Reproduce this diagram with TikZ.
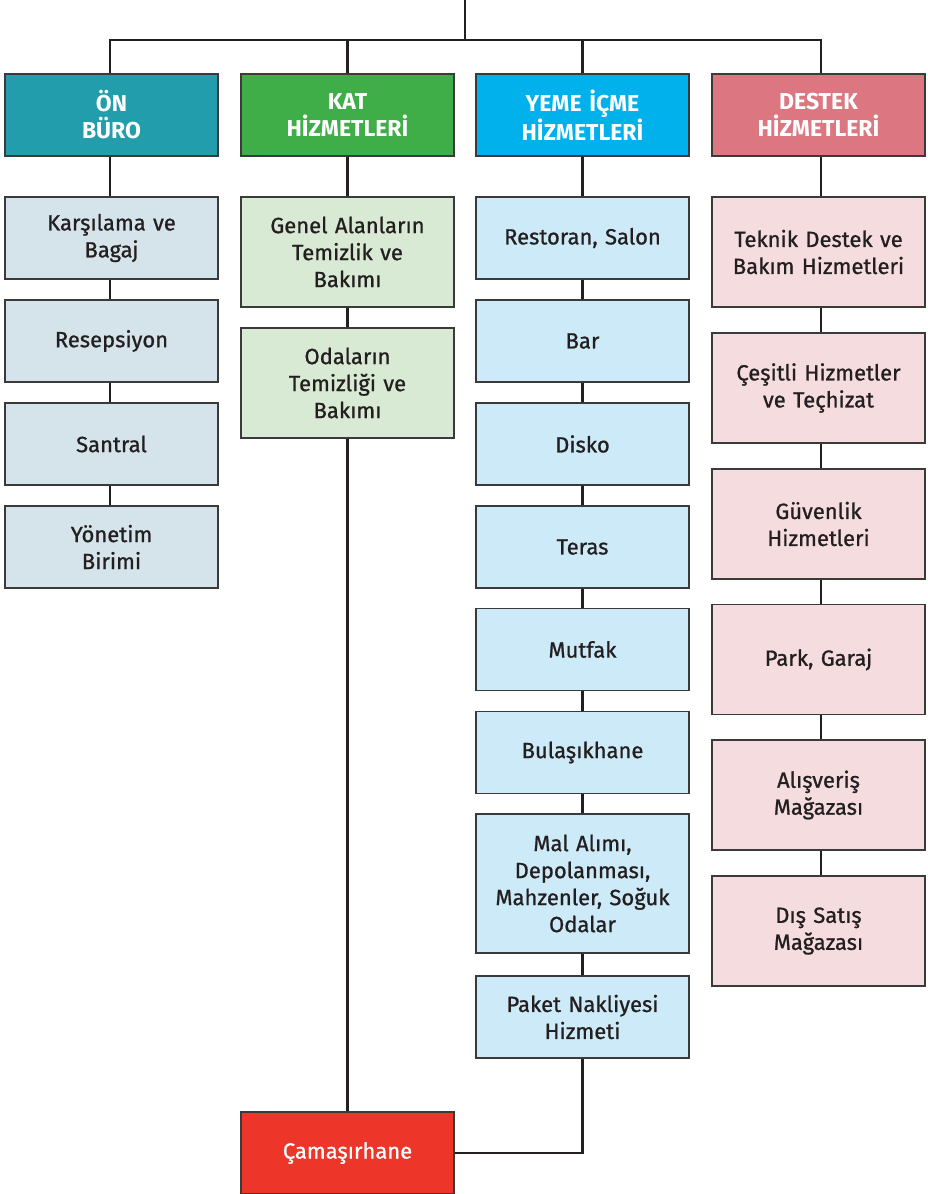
\documentclass[tikz,border=0pt]{standalone}
\usepackage{fontspec}
\setmainfont{Fira Sans}
\newfontfamily\medfont{Fira Sans}[FakeBold=0.9]
\definecolor{hA}{HTML}{219DAB}
\definecolor{hB}{HTML}{3FAE49}
\definecolor{hC}{HTML}{00B1EB}
\definecolor{hD}{HTML}{DC7782}
\definecolor{sA}{HTML}{D5E4EA}
\definecolor{sB}{HTML}{D9EAD4}
\definecolor{sC}{HTML}{CDEAF8}
\definecolor{sD}{HTML}{F5DCDF}
\definecolor{red}{HTML}{EE3529}
\definecolor{txt}{HTML}{231F20}
\definecolor{brd}{HTML}{3A3A3A}
\tikzset{
  box/.style={draw=brd, line width=1.3pt, minimum width=213pt, inner sep=2pt,
    align=center, text width=205pt, font=\medfont\fontsize{22}{27}\selectfont, text=txt},
  hdr/.style={box, minimum height=82pt, text=white, font=\fontsize{23}{27}\selectfont\bfseries},
  conn/.style={draw=txt, line width=2.6pt}
}
\begin{document}
\begin{tikzpicture}[x=1pt,y=-1pt]
\useasboundingbox (0,0) rectangle (927,1194);
% headers
\node[hdr, fill=hA] (h1) at (111.5,115) {ÖN\\BÜRO};
\node[hdr, fill=hB] (h2) at (347.5,115) {KAT\\HİZMETLERİ};
\node[hdr, fill=hC] (h3) at (582.5,115) {YEME İÇME\\HİZMETLERİ};
\node[hdr, fill=hD] (h4) at (818.5,115) {DESTEK\\HİZMETLERİ};
% column 1
\node[box, fill=sA, minimum height=82pt] (a1) at (111.5,238) {Karşılama ve\\Bagaj};
\node[box, fill=sA, minimum height=82pt] (a2) at (111.5,341) {Resepsiyon};
\node[box, fill=sA, minimum height=82pt] (a3) at (111.5,444) {Santral};
\node[box, fill=sA, minimum height=82pt] (a4) at (111.5,547) {Yönetim\\Birimi};
% column 2
\node[box, fill=sB, minimum height=110pt] (b1) at (347.5,252) {Genel Alanların\\Temizlik ve\\Bakımı};
\node[box, fill=sB, minimum height=110pt] (b2) at (347.5,383) {Odaların\\Temizliği ve\\Bakımı};
\node[box, fill=red, minimum height=82pt, text=white] (cam) at (347.5,1153) {Çamaşırhane};
% column 3
\node[box, fill=sC, minimum height=82pt] (c1) at (582.5,238) {Restoran, Salon};
\node[box, fill=sC, minimum height=82pt] (c2) at (582.5,341) {Bar};
\node[box, fill=sC, minimum height=82pt] (c3) at (582.5,444) {Disko};
\node[box, fill=sC, minimum height=82pt] (c4) at (582.5,547) {Teras};
\node[box, fill=sC, minimum height=82pt] (c5) at (582.5,649.5) {Mutfak};
\node[box, fill=sC, minimum height=82pt] (c6) at (582.5,752.5) {Bulaşıkhane};
\node[box, fill=sC, minimum height=139pt] (c7) at (582.5,883.5) {Mal Alımı,\\Depolanması,\\Mahzenler, Soğuk\\Odalar};
\node[box, fill=sC, minimum height=82pt] (c8) at (582.5,1017) {Paket Nakliyesi\\Hizmeti};
% column 4
\node[box, fill=sD, minimum height=110pt] (d1) at (818.5,252) {Teknik Destek ve\\Bakım Hizmetleri};
\node[box, fill=sD, minimum height=110pt] (d2) at (818.5,388) {Çeşitli Hizmetler\\ve Teçhizat};
\node[box, fill=sD, minimum height=110pt] (d3) at (818.5,524) {Güvenlik\\Hizmetleri};
\node[box, fill=sD, minimum height=110pt] (d4) at (818.5,659.5) {Park, Garaj};
\node[box, fill=sD, minimum height=110pt] (d5) at (818.5,795) {Alışveriş\\Mağazası};
\node[box, fill=sD, minimum height=110pt] (d6) at (818.5,931) {Dış Satış\\Mağazası};
% top connectors
\coordinate (top) at (465,0);
\coordinate (jn) at (465,40);
\coordinate (bl) at (110,40);
\coordinate (br) at (821,40);
\draw[conn] (top) -- (jn);
\draw[conn, line join=miter] (h1.north -| bl) -- (bl) -- (br) -- (h4.north -| br);
\draw[conn] (h2.north) -- (h2.north |- bl);
\draw[conn] (h3.north) -- (h3.north |- bl);
% column connectors
\draw[conn] (h1.south -| bl) -- (a1.north -| bl);
\draw[conn] (a1.south -| bl) -- (a2.north -| bl);
\draw[conn] (a2.south -| bl) -- (a3.north -| bl);
\draw[conn] (a3.south -| bl) -- (a4.north -| bl);
\draw[conn] (h2.south) -- (b1.north);
\draw[conn] (b1.south) -- (b2.north);
\draw[conn] (b2.south) -- (cam.north);
\draw[conn] (h3.south) -- (c1.north);
\draw[conn] (c1.south) -- (c2.north);
\draw[conn] (c2.south) -- (c3.north);
\draw[conn] (c3.south) -- (c4.north);
\draw[conn] (c4.south) -- (c5.north);
\draw[conn] (c5.south) -- (c6.north);
\draw[conn] (c6.south) -- (c7.north);
\draw[conn] (c7.south) -- (c8.north);
\draw[conn, line join=miter] (c8.south) |- (cam.east);
\draw[conn] (h4.south -| br) -- (d1.north -| br);
\draw[conn] (d1.south -| br) -- (d2.north -| br);
\draw[conn] (d2.south -| br) -- (d3.north -| br);
\draw[conn] (d3.south -| br) -- (d4.north -| br);
\draw[conn] (d4.south -| br) -- (d5.north -| br);
\draw[conn] (d5.south -| br) -- (d6.north -| br);
\end{tikzpicture}
\end{document}
